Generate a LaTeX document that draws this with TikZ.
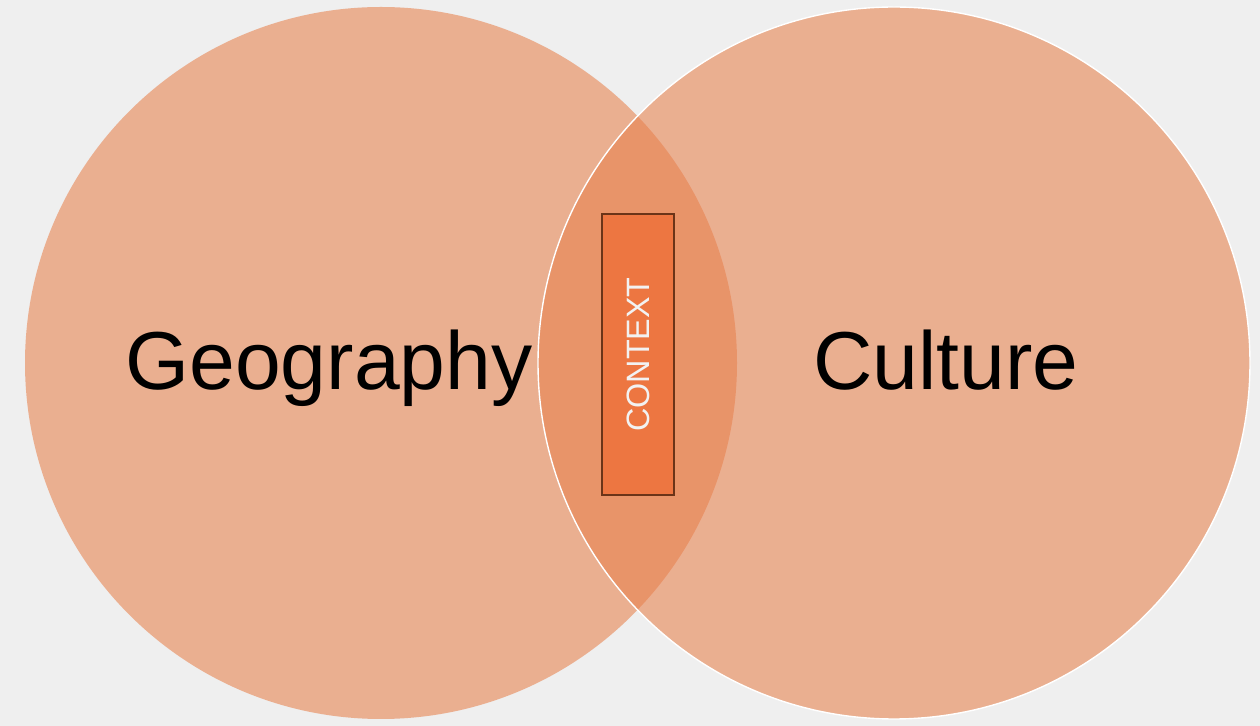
\documentclass[tikz,border=0pt]{standalone}
\usepackage{fontspec}
\setmainfont{Liberation Sans}
\definecolor{bggray}{HTML}{EFEFEF}
\definecolor{peach}{HTML}{E8814D}
\definecolor{ctxorange}{HTML}{ED7641}
\definecolor{ctxbrown}{HTML}{6B3418}
\definecolor{ctxtext}{HTML}{F2F2F2}

\begin{document}
\begin{tikzpicture}[
  setcircle/.style={fill=peach, fill opacity=0.58},
  biglabel/.style={text=black, font=\fontsize{46.8}{50}\selectfont, anchor=base, inner sep=0pt}
]

% Background
\fill[bggray] (0,0) rectangle (25.2,14.52);
\useasboundingbox (0,0) rectangle (25.2,14.52);

% Left set: Geography
\fill[setcircle] (7.62,7.26) circle (7.12);

% Right set: Culture (thin white rim)
\fill[setcircle] (17.88,7.26) circle (7.12);
\draw[white, line width=0.8pt] (17.88,7.26) circle (7.12);

% Labels
\node[biglabel] (geo) at (6.58,6.72) {Geography};
\node[biglabel] (cult) at (18.92,6.72) {Culture};

% Overlap box
\node[fill=ctxorange, draw=ctxbrown, line width=0.7pt,
      minimum width=1.44cm, minimum height=5.62cm, inner sep=0pt] (ctx) at (12.76,7.43) {};
\node[text=ctxtext, font=\fontsize{18.4}{20}\selectfont, rotate=90, inner sep=0pt] (ctxlabel) at (ctx.center) {CONTEXT};

\end{tikzpicture}
\end{document}
